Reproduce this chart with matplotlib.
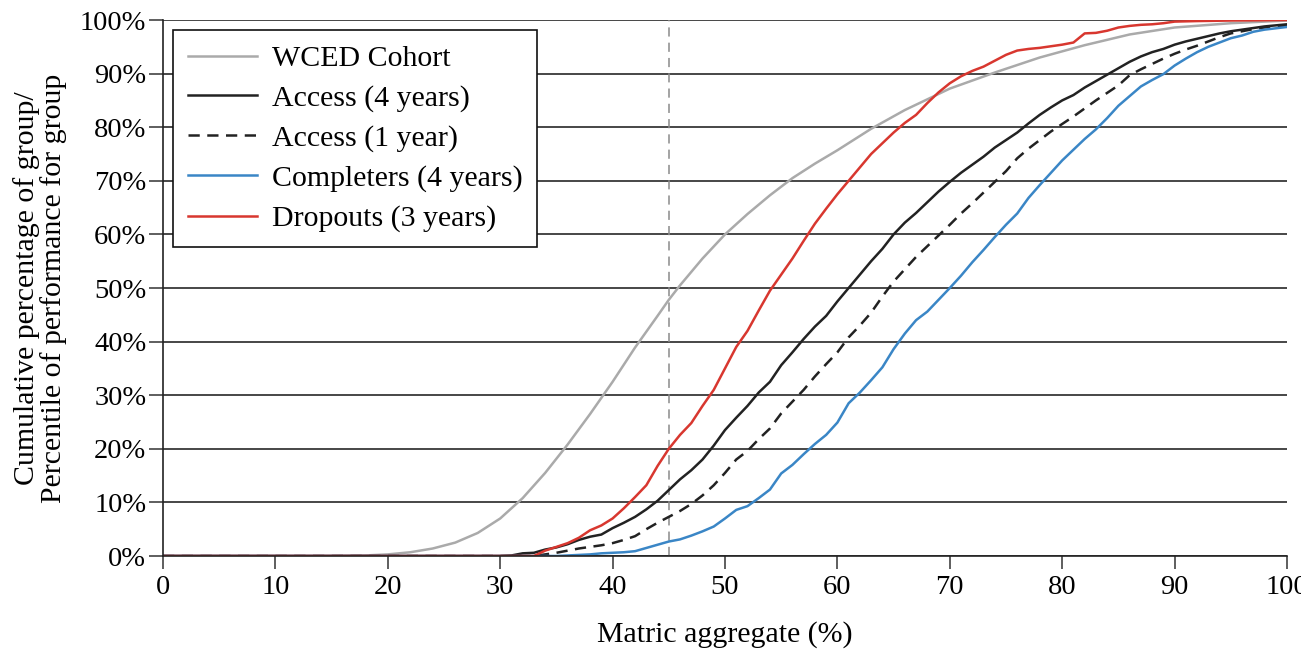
import matplotlib
matplotlib.use("Agg")
import matplotlib.pyplot as plt
from matplotlib.ticker import FuncFormatter

plt.rcParams['font.family'] = ['Liberation Serif', 'DejaVu Serif']

# ---- data ----
wced_x = [0, 15, 18, 20, 22, 24, 26, 28, 30, 32, 34, 36, 38, 40, 42, 44, 45, 46, 48, 50,
          52, 54, 56, 58, 60, 63, 66, 70, 74, 76, 78, 82, 86, 90, 95, 100]
wced_y = [0, 0, 0.1, 0.3, 0.7, 1.4, 2.5, 4.3, 7.0, 10.8, 15.5, 20.8, 26.5, 32.5, 38.9, 44.8,
          47.8, 50.5, 55.5, 60.0, 63.8, 67.3, 70.5, 73.2, 75.7, 79.7, 83.2, 87.2, 90.2, 91.6,
          93.0, 95.3, 97.3, 98.6, 99.4, 99.9]

drop_x = [0, 33, 34, 35, 36, 37, 38, 39, 40, 41, 42, 43, 44, 45, 46, 47, 48, 49, 50, 51, 52,
          53, 54, 55, 56, 57, 58, 59, 60, 61, 62, 63, 64, 65, 66, 67, 68, 69, 70, 71, 72, 73,
          74, 75, 76, 77, 78, 79, 80, 81, 82, 83, 84, 85, 86, 87, 88, 89, 90, 92, 95, 100]
drop_y = [0, 0, 1.0, 1.7, 2.4, 3.4, 4.8, 5.7, 7.0, 8.9, 11.0, 13.2, 16.8, 20.0, 22.6, 24.8,
          28.0, 31.0, 35.0, 39.0, 42.0, 45.8, 49.5, 52.5, 55.5, 58.8, 62.0, 64.8, 67.5, 70.0,
          72.5, 75.0, 77.0, 79.0, 80.8, 82.3, 84.5, 86.5, 88.2, 89.5, 90.5, 91.3, 92.4, 93.5,
          94.3, 94.6, 94.8, 95.1, 95.4, 95.8, 97.5, 97.6, 98.0, 98.6, 98.9, 99.1, 99.2, 99.4,
          99.7, 99.8, 99.9, 100]

acc4_x = [0, 30, 31, 32, 33, 34, 35, 36, 37, 38, 39, 40, 41, 42, 43, 44, 45, 46, 47, 48, 49,
          50, 51, 52, 53, 54, 55, 56, 57, 58, 59, 60, 61, 62, 63, 64, 65, 66, 67, 68, 69, 70,
          71, 72, 73, 74, 75, 76, 77, 78, 79, 80, 81, 82, 83, 84, 85, 86, 87, 88, 89, 90, 91,
          92, 93, 94, 95, 96, 97, 98, 100]
acc4_y = [0, 0, 0.1, 0.5, 0.6, 1.2, 1.6, 2.2, 3.0, 3.6, 4.0, 5.2, 6.2, 7.3, 8.7, 10.3, 12.3,
          14.3, 16.0, 18.0, 20.6, 23.5, 25.8, 28.0, 30.5, 32.5, 35.6, 38.0, 40.5, 42.8, 44.8,
          47.5, 50.0, 52.5, 55.0, 57.3, 60.0, 62.2, 64.0, 66.0, 68.0, 69.8, 71.5, 73.0, 74.5,
          76.2, 77.6, 79.0, 80.7, 82.3, 83.7, 85.0, 86.0, 87.4, 88.6, 89.8, 91.0, 92.2, 93.2,
          94.0, 94.6, 95.4, 96.0, 96.5, 97.0, 97.5, 97.9, 98.2, 98.5, 98.8, 99.2]

acc1_x = [0, 33, 34, 35, 36, 37, 38, 39, 40, 41, 42, 43, 44, 45, 46, 47, 48, 49, 50, 51, 52,
          53, 54, 55, 56, 57, 58, 59, 60, 61, 62, 63, 64, 65, 66, 67, 68, 69, 70, 71, 72, 73,
          74, 75, 76, 77, 78, 79, 80, 81, 82, 83, 84, 85, 86, 87, 88, 89, 90, 91, 92, 93, 94,
          95, 96, 97, 98, 100]
acc1_y = [0, 0, 0.3, 0.6, 1.0, 1.4, 1.7, 2.0, 2.4, 3.0, 3.7, 5.0, 6.2, 7.3, 8.4, 9.7, 11.3,
          13.2, 15.5, 18.0, 19.6, 21.8, 23.8, 26.6, 28.8, 31.0, 33.5, 35.8, 38.0, 40.8, 43.0,
          45.4, 48.4, 51.2, 53.5, 55.8, 57.8, 59.8, 61.8, 63.9, 65.8, 67.8, 69.8, 71.8, 74.2,
          76.0, 77.6, 79.2, 80.6, 82.0, 83.5, 85.0, 86.4, 87.8, 89.7, 90.8, 91.8, 92.8, 93.7,
          94.5, 95.2, 96.0, 96.8, 97.5, 97.9, 98.3, 98.6, 99.0]

comp_x = [0, 35, 38, 39, 40, 41, 42, 43, 44, 45, 46, 47, 48, 49, 50, 51, 52, 53, 54, 55, 56,
          57, 58, 59, 60, 61, 62, 63, 64, 65, 66, 67, 68, 69, 70, 71, 72, 73, 74, 75, 76, 77,
          78, 79, 80, 81, 82, 83, 84, 85, 86, 87, 88, 89, 90, 91, 92, 93, 94, 95, 96, 97, 98,
          100]
comp_y = [0, 0, 0.3, 0.5, 0.6, 0.7, 0.9, 1.5, 2.1, 2.7, 3.1, 3.8, 4.6, 5.5, 7.0, 8.6, 9.3,
          10.8, 12.4, 15.4, 17.0, 19.0, 20.9, 22.6, 24.9, 28.5, 30.5, 32.8, 35.2, 38.6, 41.5,
          44.0, 45.6, 47.8, 50.0, 52.3, 54.8, 57.1, 59.5, 61.8, 63.9, 66.8, 69.2, 71.5, 73.8,
          75.8, 77.8, 79.6, 81.7, 84.0, 85.8, 87.6, 88.8, 89.9, 91.5, 92.8, 94.0, 95.0, 95.8,
          96.6, 97.1, 97.8, 98.2, 98.7]

x_ticks = [0, 10, 20, 30, 40, 50, 60, 70, 80, 90, 100]
y_ticks = [0, 10, 20, 30, 40, 50, 60, 70, 80, 90, 100]
threshold = 45

# ---- figure ----
W, H = 1301, 652
fig = plt.figure(figsize=(W / 100, H / 100), dpi=100)
ax = fig.add_axes([163 / W, 1 - 556 / H, (1287 - 163) / W, (556 - 20) / H])

ax.set_xlim(0, 100)
ax.set_ylim(0, 100)

for y in y_ticks:
    ax.axhline(y, color='#383838', lw=1.3, zorder=1)
ax.axvline(threshold, color='#8a8a8a', lw=1.1, ls=(0, (6, 4)), zorder=1.5)

ax.plot(wced_x, wced_y, color='#aaaaaa', lw=1.8, label='WCED Cohort', zorder=3)
ax.plot(acc4_x, acc4_y, color='#222222', lw=1.8, label='Access (4 years)', zorder=3)
ax.plot(acc1_x, acc1_y, color='#222222', lw=1.8, ls=(0, (4.5, 3)), label='Access (1 year)', zorder=3)
ax.plot(comp_x, comp_y, color='#3a86c6', lw=1.8, label='Completers (4 years)', zorder=3)
ax.plot(drop_x, drop_y, color='#d8372f', lw=1.8, label='Dropouts (3 years)', zorder=3)

for s in ['top', 'right']:
    ax.spines[s].set_visible(False)
for s in ['left', 'bottom']:
    ax.spines[s].set_color('#222222')
    ax.spines[s].set_linewidth(1.2)
    ax.spines[s].set_zorder(4)

ax.set_xticks(x_ticks)
ax.set_yticks(y_ticks)
ax.yaxis.set_major_formatter(FuncFormatter(lambda v, p: f"{int(v)}%"))
ax.tick_params(axis='x', direction='out', length=9, width=1.1, color='#333333',
               labelsize=20.5, pad=5)
ax.tick_params(axis='y', direction='out', length=10, width=1.1, color='#333333',
               labelsize=20.5, pad=2)

ax.set_xlabel('Matric aggregate (%)', fontsize=21.5, labelpad=15)
ax.set_ylabel('Cumulative percentage of group/\nPercentile of performance for group',
              fontsize=21.5, labelpad=9, linespacing=1.0)

leg = ax.legend(loc='upper left', bbox_to_anchor=(0.009, 0.981), fontsize=21.5,
                frameon=True, fancybox=False, framealpha=1, edgecolor='#111111',
                handlelength=2.3, handletextpad=0.5, labelspacing=0.43,
                borderpad=0.5, borderaxespad=0)
leg.get_frame().set_linewidth(1.2)
leg.set_zorder(5)

fig.savefig('out.png', dpi=100)
